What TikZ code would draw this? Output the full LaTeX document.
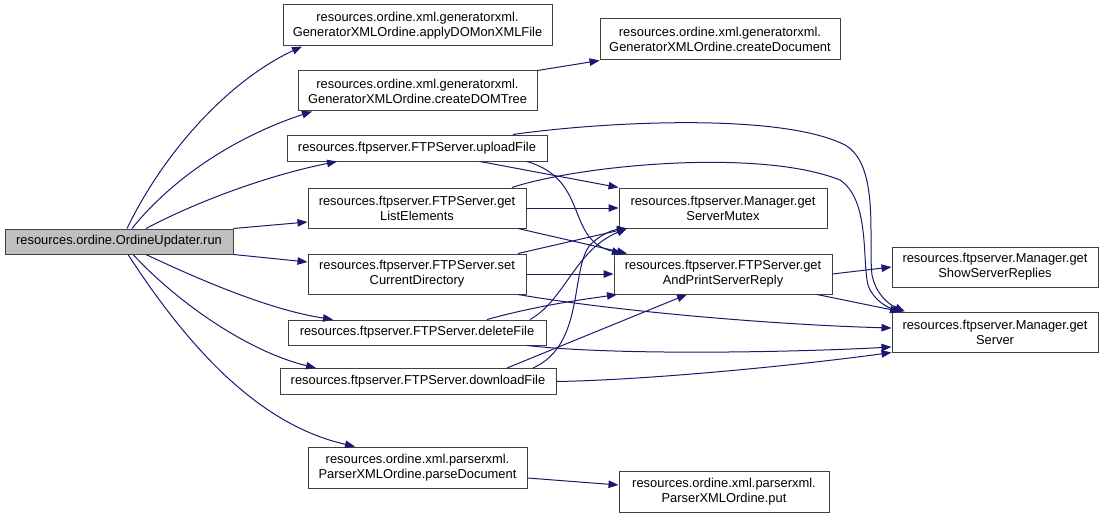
\documentclass[tikz,border=0pt]{standalone}
\usepackage{fontspec}
\setmainfont{Liberation Sans}
\usepackage{xcolor}
\usepackage{tikz}
\usetikzlibrary{arrows.meta}
\definecolor{edgeblue}{HTML}{191970}
\definecolor{rootgray}{HTML}{BFBFBF}
\definecolor{boxline}{HTML}{404040}

\begin{document}
\begin{tikzpicture}[x=1pt,y=-1pt,font=\fontsize{12.9}{15}\selectfont]
    \tikzstyle{fn}=[draw=boxline,line width=1pt,fill=white,align=center,inner sep=0pt]
    \tikzstyle{root}=[fn,fill=rootgray]
    \tikzstyle{e}=[draw=edgeblue,line width=1pt,-{Triangle[length=10pt,width=7.5pt]}]
    \useasboundingbox (0,0) rectangle (1104,519);
    % caller
    \node[root,minimum width=228,minimum height=25] (run) at (119,241.5) {resources.ordine.OrdineUpdater.run};
    % first column
    \node[fn,minimum width=269,minimum height=41] (apply)    at (417.5,25.5) {resources.ordine.xml.generatorxml.\\GeneratorXMLOrdine.applyDOMonXMLFile};
    \node[fn,minimum width=239,minimum height=40] (domtree)  at (417.5,91)   {resources.ordine.xml.generatorxml.\\GeneratorXMLOrdine.createDOMTree};
    \node[fn,minimum width=260,minimum height=26] (upload)   at (417,148)    {resources.ftpserver.FTPServer.uploadFile};
    \node[fn,minimum width=218,minimum height=40] (listel)   at (417,208)    {resources.ftpserver.FTPServer.get\\ListElements};
    \node[fn,minimum width=218,minimum height=40] (setdir)   at (417,274)    {resources.ftpserver.FTPServer.set\\CurrentDirectory};
    \node[fn,minimum width=258,minimum height=25] (delf)     at (417,332.5)  {resources.ftpserver.FTPServer.deleteFile};
    \node[fn,minimum width=276,minimum height=26] (downf)    at (418,381.5)  {resources.ftpserver.FTPServer.downloadFile};
    \node[fn,minimum width=219,minimum height=41] (parse)    at (417.5,467.5){resources.ordine.xml.parserxml.\\ParserXMLOrdine.parseDocument};
    % second column
    \node[fn,minimum width=240,minimum height=41] (createdoc) at (720,39.5)  {resources.ordine.xml.generatorxml.\\GeneratorXMLOrdine.createDocument};
    \node[fn,minimum width=208,minimum height=40] (mutex)    at (723,208)    {resources.ftpserver.Manager.get\\ServerMutex};
    \node[fn,minimum width=218,minimum height=40] (reply)    at (723,274)    {resources.ftpserver.FTPServer.get\\AndPrintServerReply};
    \node[fn,minimum width=210,minimum height=41] (put)      at (724,491.5)  {resources.ordine.xml.parserxml.\\ParserXMLOrdine.put};
    % third column
    \node[fn,minimum width=206,minimum height=40] (showrep)  at (995,267)    {resources.ftpserver.Manager.get\\ShowServerReplies};
    \node[fn,minimum width=206,minimum height=40] (server)   at (995,332)    {resources.ftpserver.Manager.get\\Server};
    % calls of run
    \draw[e] (run.north -| 127,0) .. controls (165,150) and (230,80) .. (apply.south -| 302,0);
    \draw[e] (run.north -| 132,0) .. controls (175,175) and (240,135) .. (domtree.south -| 312,0);
    \draw[e] (run.north -| 146,0) .. controls (200,200) and (270,175) .. (upload.south -| 337,0);
    \draw[e] (run.north east) -- (listel.west |- 0,222);
    \draw[e] (run.south east) -- (setdir.west |- 0,262);
    \draw[e] (run.south -| 146,0) .. controls (200,280) and (270,310) .. (delf.north -| 333,0);
    \draw[e] (run.south -| 133,0) .. controls (180,305) and (250,352) .. (downf.north -| 316,0);
    \draw[e] (run.south -| 128,0) .. controls (190,350) and (260,425) .. (parse.north -| 355,0);
    % generator and parser
    \draw[e] (domtree.north east) -- (createdoc.south west);
    \draw[e] (parse.east |- 0,478) -- (put.west |- 0,485);
    % ftp server calls
    \draw[e] (upload.north -| 513,0) .. controls (600,122) and (780,112) .. (845,145) .. controls (880,165) and (868,240) .. (872,275) .. controls (876,295) and (890,305) .. (server.north -| 905,0);
    \draw[e] (upload.south -| 480,0) -- (mutex.north west);
    \draw[e] (upload.south -| 527,0) .. controls (590,180) and (565,240) .. (reply.north -| 622,0);
    \draw[e] (listel.north -| 512,0) .. controls (580,165) and (760,148) .. (840,180) .. controls (870,200) and (862,260) .. (868,285) .. controls (873,300) and (888,308) .. (server.north -| 903,0);
    \draw[e] (listel.east |- mutex.west) -- (mutex.west);
    \draw[e] (listel.south -| 518,0) -- (reply.north -| 627,0);
    \draw[e] (setdir.north -| 518,0) -- (mutex.south -| 627,0);
    \draw[e] (setdir.east) -- (reply.west);
    \draw[e] (setdir.south -| 518,0) .. controls (620,312) and (780,325) .. (server.west |- 0,328);
    \draw[e] (delf.north -| 530,0) .. controls (565,300) and (575,250) .. (mutex.south -| 627,0);
    \draw[e] (delf.north -| 487,0) .. controls (540,305) and (580,300) .. (reply.south -| 617,0);
    \draw[e] (delf.south -| 527,0) .. controls (620,356) and (800,352) .. (server.west |- 0,347);
    \draw[e] (downf.north -| 533,0) .. controls (585,345) and (570,270) .. (590,245) .. controls (600,235) and (612,230) .. (mutex.south -| 627,0);
    \draw[e] (downf.north -| 507,0) -- (reply.south -| 687,0);
    \draw[e] (downf.east) .. controls (650,380) and (800,365) .. (server.south west);
    \draw[e] (reply.east) -- (showrep.west);
    \draw[e] (reply.south -| 817,0) -- (server.north -| 900,0);
\end{tikzpicture}
\end{document}
